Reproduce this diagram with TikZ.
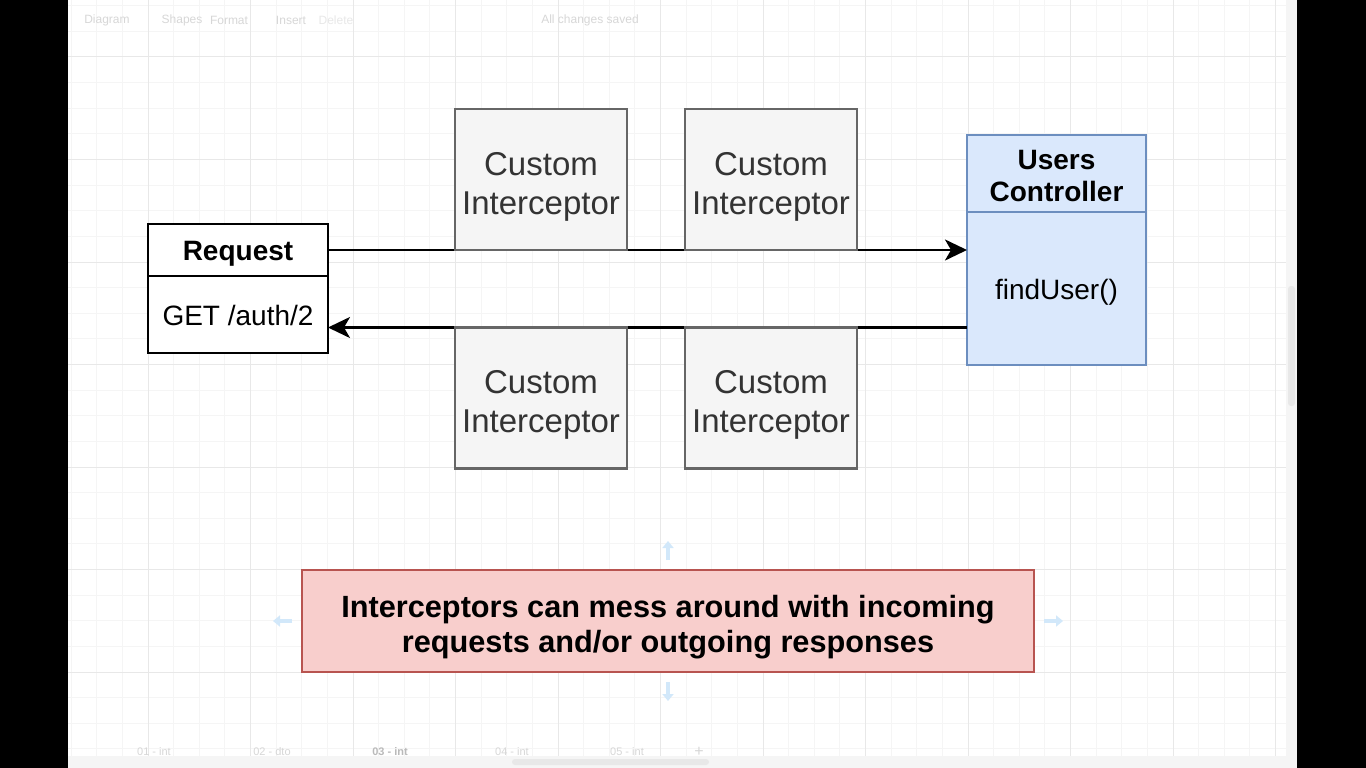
\documentclass[tikz,border=0pt]{standalone}
\usepackage{fontspec}
\setmainfont{Liberation Sans}
\usetikzlibrary{arrows.meta}
\definecolor{ii}{RGB}{245, 245, 245}
\definecolor{il}{RGB}{102, 102, 102}
\definecolor{it}{RGB}{51, 51, 51}
\definecolor{uu}{RGB}{218, 232, 252}
\definecolor{ul}{RGB}{108, 142, 191}
\definecolor{nn}{RGB}{248, 206, 204}
\definecolor{nl}{RGB}{184, 84, 80}
\definecolor{gm}{RGB}{245, 245, 245}
\definecolor{gg}{RGB}{232, 232, 232}
\definecolor{ui}{RGB}{215, 215, 215}
\definecolor{hv}{RGB}{210, 232, 250}

\begin{document}
\begin{tikzpicture}[x=1pt, y=1pt]
\tikzset{
  box/.style={rectangle, inner sep=0pt, outer sep=0pt, line width=2.5pt},
  lbl/.style={inner sep=0pt, align=center},
  req/.style={box, minimum width=180pt, draw=black, fill=white},
  ctl/.style={box, minimum width=179pt, draw=ul, fill=uu},
  icp/.style={box, minimum width=172pt, minimum height=141pt, draw=il, fill=ii},
  icpt/.style={lbl, text=it, font=\fontsize{33}{39}\selectfont},
  big/.style={lbl, font=\fontsize{28}{32}\selectfont},
  bigb/.style={lbl, font=\bfseries\fontsize{28}{32}\selectfont},
  arr/.style={line width=2.5pt, color=black, -{Stealth[length=22pt, width=21pt, inset=6pt]}},
  hov/.style={line width=4pt, color=hv, -{Triangle[length=7pt, width=11pt]}},
  tb/.style={text=ui, font=\fontsize{12}{14}\selectfont},
}
\useasboundingbox (0pt, 0pt) rectangle (1366pt, -768pt);
\fill[white] (68pt, 0pt) rectangle (1297pt, -768pt);
% grid
\foreach \k in {-3,...,44} \draw[gm, line width=1pt] ({148+25.625*\k}, 0) -- ({148+25.625*\k}, -756);
\foreach \k in {-2,...,27} \draw[gm, line width=1pt] (68, {-57-25.625*\k}) -- (1286, {-57-25.625*\k});
\foreach \k in {0,4,...,44} \draw[gg, line width=1pt] ({148+25.625*\k}, 0) -- ({148+25.625*\k}, -756);
\foreach \k in {0,4,...,24} \draw[gg, line width=1pt] (68, {-57-25.625*\k}) -- (1286, {-57-25.625*\k});
% window
\fill[black] (0pt, 0pt) rectangle (68pt, -768pt);
\fill[black] (1297pt, 0pt) rectangle (1366pt, -768pt);
\fill[gm] (1286pt, 0pt) rectangle (1297pt, -756pt);
\fill[gg, rounded corners=3pt] (1288pt, -286pt) rectangle (1295pt, -406pt);
\fill[gm] (68pt, -756pt) rectangle (1297pt, -768pt);
\fill[gg, rounded corners=3pt] (512pt, -759pt) rectangle (709pt, -765pt);
\node (t1) [tb] at (107pt, -20pt) {Diagram};
\node (t2) [tb] at (182pt, -20pt) {Shapes};
\node (t3) [tb] at (229pt, -20pt) {Format};
\node (t4) [tb] at (291pt, -20pt) {Insert};
\node (t5) [tb, text=gg] at (336pt, -20pt) {Delete};
\node (t6) [tb] at (590pt, -20pt) {All changes saved};
\node (t7) [tb, font=\fontsize{11}{13}\selectfont] at (154pt, -752pt) {01 - int};
\node (t8) [tb, font=\fontsize{11}{13}\selectfont] at (272pt, -752pt) {02 - dto};
\node (t9) [tb, text=il!45, font=\bfseries\fontsize{11}{13}\selectfont] at (390pt, -752pt) {03 - int};
\node (t10) [tb, font=\fontsize{11}{13}\selectfont] at (512pt, -752pt) {04 - int};
\node (t11) [tb, font=\fontsize{11}{13}\selectfont] at (627pt, -752pt) {05 - int};
\node (t12) [tb, font=\fontsize{16}{16}\selectfont] at (699pt, -752pt) {+};
% request and controller
\node (1) [req, minimum height=52pt] at (238pt, -250pt) {};
\node (2) [req, minimum height=77pt] at (238pt, -314.5pt) {};
\node (3) [ctl, minimum height=77pt] at (1056.5pt, -173.5pt) {};
\node (4) [ctl, minimum height=153pt] at (1056.5pt, -288.5pt) {};
\node (1t) [bigb] at ([yshift=-4pt]1.center) {Request};
\node (2t) [big] at ([yshift=-1pt]2.center) {GET /auth/2};
\node (3t) [bigb] at ([yshift=-3pt]3.center) {Users\\Controller};
\node (4t) [big] at ([yshift=-4pt]4.center) {findUser()};
\draw [arr] (1.east) to (1.east -| 4.west);
\draw [arr] (4.west |- 0, -327.5pt) to (2.east |- 0, -327.5pt);
% interceptors
\node (5) [icp] at (541pt, -179.5pt) {};
\node (6) [icp] at (771pt, -179.5pt) {};
\node (7) [icp] at (541pt, -398pt) {};
\node (8) [icp] at (771pt, -398pt) {};
\foreach \n in {5,6,7,8} \node (\n t) [icpt] at ([yshift=-7pt]\n.center) {Custom\\Interceptor};
% note
\node (9) [box, minimum width=732pt, minimum height=102pt, draw=nl, fill=nn] at (668pt, -621pt) {};
\node (9t) [lbl, font=\bfseries\fontsize{30.7}{35}\selectfont] at ([yshift=-6pt]9.center)
  {Interceptors can mess around with incoming\\requests and/or outgoing responses};
\draw [hov] (9.north) ++(0, 10pt) -- ++(0, 19pt);
\draw [hov] (9.south) ++(0, -10pt) -- ++(0, -19pt);
\draw [hov] (9.west) ++(-10pt, 0) -- ++(-19pt, 0);
\draw [hov] (9.east) ++(10pt, 0) -- ++(19pt, 0);
\end{tikzpicture}
\end{document}
